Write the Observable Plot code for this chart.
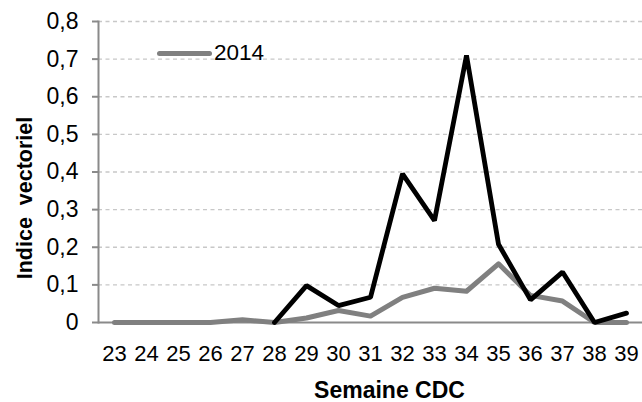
<!DOCTYPE html>
<html>
<head>
<meta charset="utf-8">
<script src="https://cdn.jsdelivr.net/npm/d3@7"></script>
<script src="https://cdn.jsdelivr.net/npm/@observablehq/plot@0.6"></script>
<style>
  html, body { margin: 0; padding: 0; background: #fff; }
  #wrap { position: relative; width: 642px; height: 402px; font-family: "Liberation Sans", Arial, sans-serif; }
  #legend { position: absolute; left: 157px; top: 40px; display: flex; align-items: center; font-size: 22.5px; color: #000; }
  #legend .sw { width: 55px; height: 5px; background: #808080; border-radius: 2.5px; margin-right: 2px; }
</style>
</head>
<body>
<div id="wrap">
  <div id="chart"></div>
  <div id="legend"><span class="sw"></span><span>2014</span></div>
</div>
<script>
const weeks = [23, 24, 25, 26, 27, 28, 29, 30, 31, 32, 33, 34, 35, 36, 37, 38, 39];
const series2014 = [0, 0, 0, 0, 0.007, 0, 0.012, 0.032, 0.017, 0.067, 0.091, 0.083, 0.156, 0.072, 0.057, 0, 0];
const seriesOther = [null, null, null, null, null, 0, 0.098, 0.045, 0.067, 0.395, 0.271, 0.71, 0.208, 0.06, 0.134, 0, 0.025];
const yTicks = [0, 0.1, 0.2, 0.3, 0.4, 0.5, 0.6, 0.7, 0.8];
const xTitle = "Semaine CDC";
const yTitle = "Indice  vectoriel";

const gray = weeks.map((w, i) => ({week: w, value: series2014[i]}));
const black = weeks.map((w, i) => ({week: w, value: seriesOther[i]}));

const fmt = d => d === 0 ? "0" : d.toFixed(1).replace(".", ",");

const chart = Plot.plot({
  width: 642,
  height: 402,
  marginLeft: 98,
  marginRight: 0,
  marginTop: 21,
  marginBottom: 80,
  style: {fontFamily: "Liberation Sans, Arial, sans-serif", fontSize: "22.5px", color: "#000", background: "#fff"},
  x: {type: "point", domain: weeks, padding: 0.5},
  y: {domain: [0, 0.8]},
  marks: [
    Plot.ruleY(yTicks.filter(d => d > 0), {stroke: "#c8c8c8", strokeWidth: 1.3, strokeDasharray: "4,3.5"}),
    Plot.axisY({ticks: yTicks, tickFormat: fmt, tickSize: 6, tickPadding: 14, stroke: "#8a8a8a", strokeWidth: 2, fill: "#000", fontSize: 23, label: null}),
    Plot.axisX({tickSize: 0, tickPadding: 23, fill: "#000", fontSize: 22, label: null}),
    Plot.frame({anchor: "left", stroke: "#8a8a8a", strokeWidth: 2}),
    Plot.ruleY([0], {stroke: "#8a8a8a", strokeWidth: 2}),
    Plot.line(gray, {x: "week", y: "value", stroke: "#808080", strokeWidth: 5, strokeLinejoin: "round", strokeLinecap: "round"}),
    Plot.line(black, {x: "week", y: "value", stroke: "#000", strokeWidth: 4.8, strokeLinejoin: "miter", strokeLinecap: "round", defined: d => d.value != null}),
    Plot.text([xTitle], {frameAnchor: "bottom", lineAnchor: "middle", dy: 68, fontWeight: "bold", fontSize: 23, fill: "#000", dx: 19}),
    Plot.text([yTitle], {frameAnchor: "left", textAnchor: "middle", rotate: -90, dx: -73, dy: 26, fontWeight: "bold", fontSize: 21.5, fill: "#000"})
  ]
});
document.getElementById("chart").appendChild(chart);
</script>
</body>
</html>
